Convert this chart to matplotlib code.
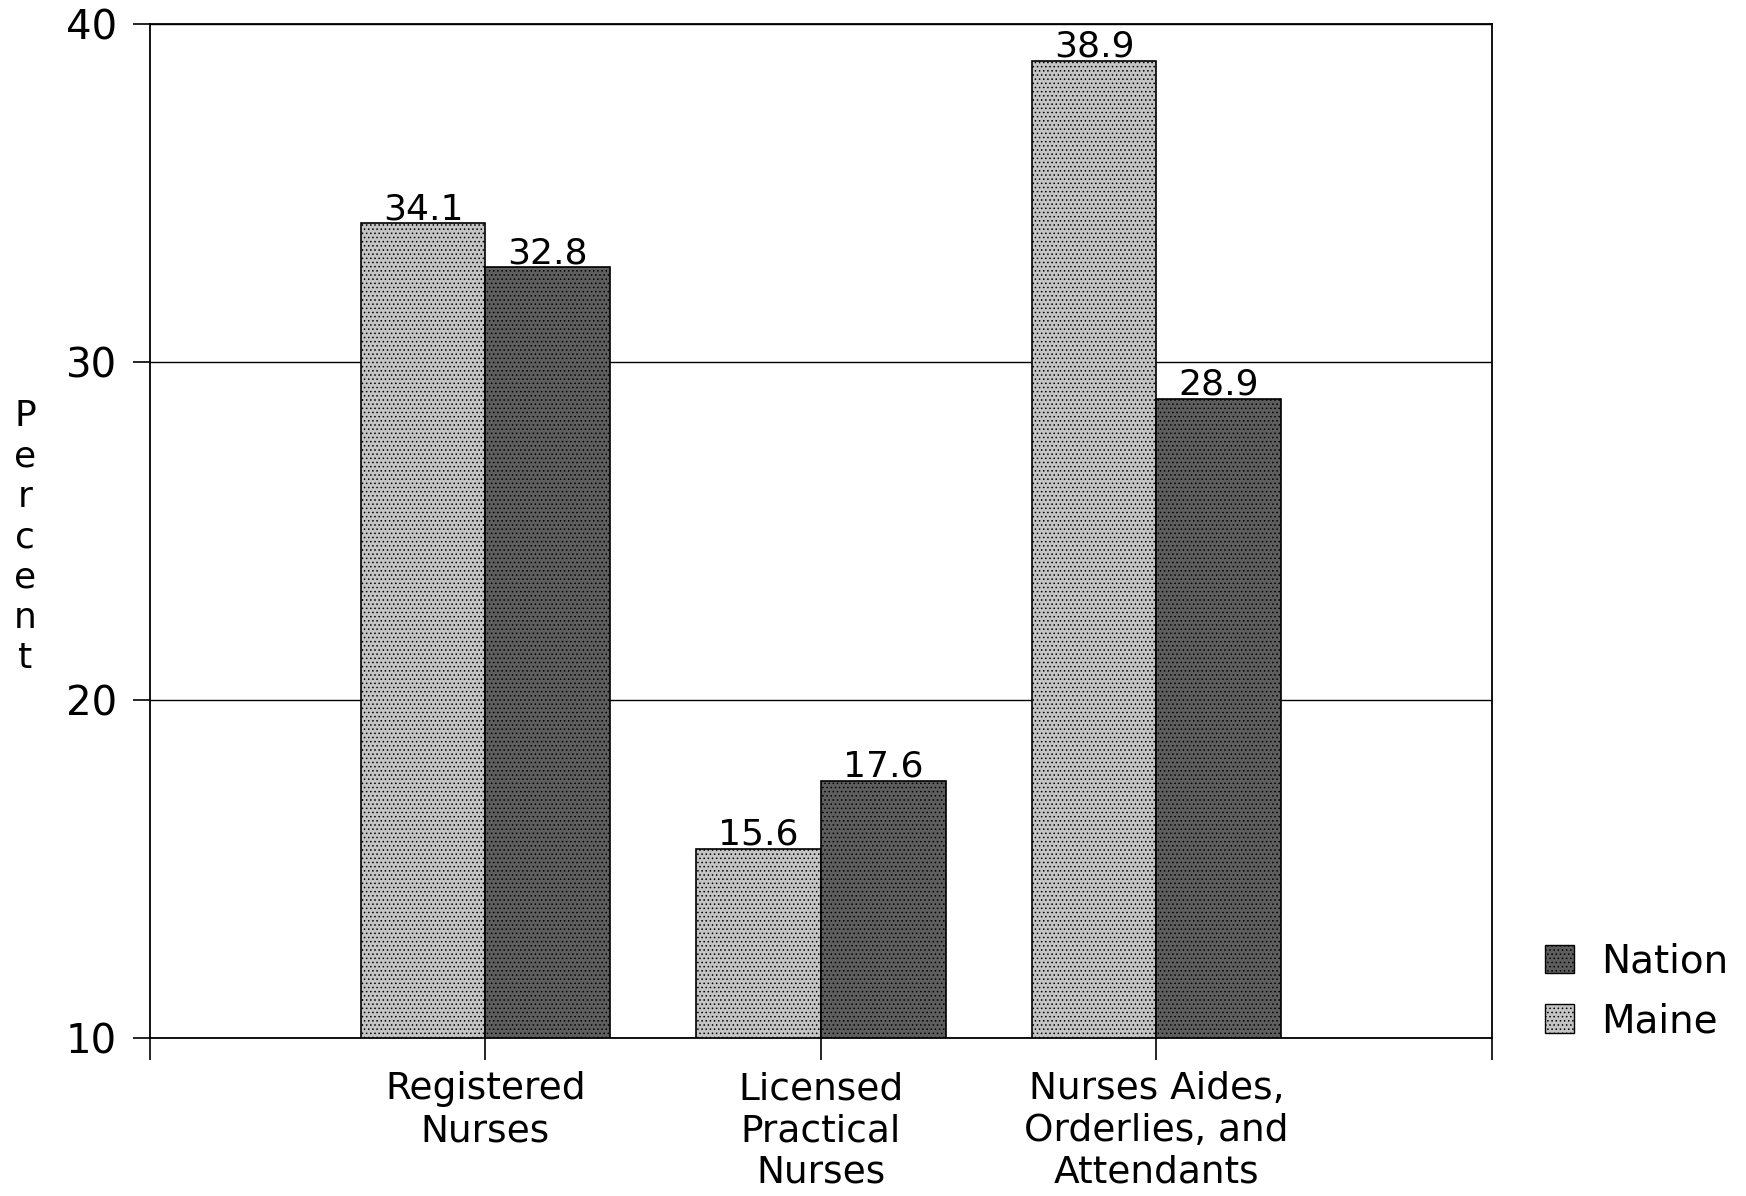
import numpy as np
import matplotlib
matplotlib.use('Agg')
import matplotlib.pyplot as plt
from matplotlib.patches import Patch

plt.rcParams['font.family'] = ['DejaVu Sans']
plt.rcParams['hatch.linewidth'] = 0.6

categories = ['Registered\nNurses', 'Licensed\nPractical\nNurses',
              'Nurses Aides,\nOrderlies, and\nAttendants']
maine = [34.1, 15.6, 38.9]
nation = [32.8, 17.6, 28.9]
yticks = [10, 20, 30, 40]

fig = plt.figure(figsize=(17.46, 11.96), dpi=100)
ax = fig.add_axes([0.0859, 0.132, 0.7686, 0.848])

x = np.arange(1, len(categories) + 1)
w = 0.372
base = 10

ax.bar(x - w / 2, np.array(maine) - base, w, bottom=base,
       facecolor='#c4c4c4', edgecolor='black', linewidth=1.2,
       hatch='....', zorder=3)
ax.bar(x + w / 2, np.array(nation) - base, w, bottom=base,
       facecolor='#5e5e5e', edgecolor='black', linewidth=1.2,
       hatch='....', zorder=3)

# valeurs au-dessus des barres
for xs, vals in ((x - w / 2, maine), (x + w / 2, nation)):
    for xi, v in zip(xs, vals):
        ax.text(xi, v - 0.08, f'{v:.1f}', ha='center', va='bottom',
                fontsize=26, zorder=4)

ax.set_xlim(0, 4)
ax.set_ylim(10, 40)
ax.set_yticks(yticks)
ax.set_yticklabels([str(t) for t in yticks], fontsize=29)
ax.set_xticks([0, 1, 2, 3, 4])
ax.set_xticklabels([''] + categories + [''], fontsize=27, linespacing=1.2)
ax.tick_params(axis='x', length=16, width=1.2, direction='out', pad=8)
ax.tick_params(axis='y', length=12, width=1.2, direction='out', pad=12)
ax.yaxis.grid(True, color='black', linewidth=1.0, zorder=0)
for s in ax.spines.values():
    s.set_linewidth(1.3)

fig.text(0.0143, 0.551, 'P\ne\nr\nc\ne\nn\nt', ha='center', va='center',
         fontsize=26, linespacing=1.24)

handles = [Patch(facecolor='#5e5e5e', edgecolor='black', hatch='....', label='Nation'),
           Patch(facecolor='#c4c4c4', edgecolor='black', hatch='....', label='Maine')]
fig.legend(handles=handles, loc='center left', bbox_to_anchor=(0.885, 0.171),
           frameon=False, fontsize=28, handlelength=0.75, handleheight=0.75,
           handletextpad=0.7, labelspacing=0.55, borderaxespad=0, borderpad=0)

fig.savefig('out.png', dpi=100, facecolor='white')
